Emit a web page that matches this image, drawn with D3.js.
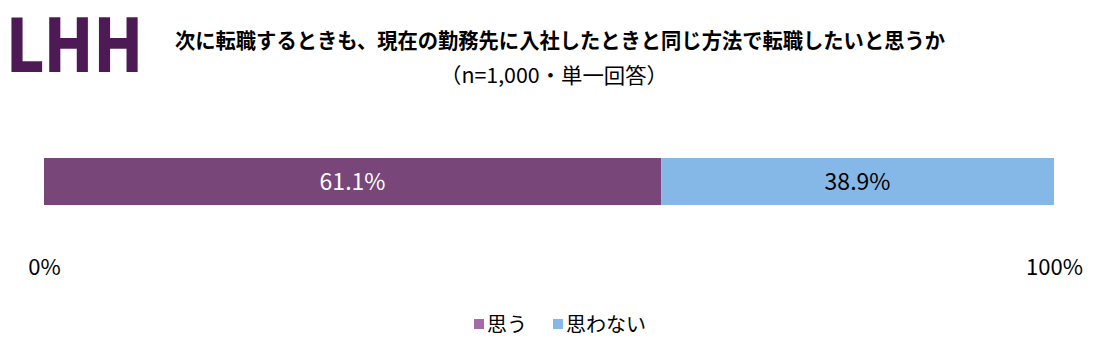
<!DOCTYPE html>
<html>
<head>
<meta charset="utf-8">
<script src="https://cdn.jsdelivr.net/npm/d3@7"></script>
<style>
  body { margin: 0; background: #fff; }
  text { font-family: "Noto Sans CJK JP", "Noto Sans", sans-serif; }
</style>
</head>
<body>
<script>
const title = '次に転職するときも、現在の勤務先に入社したときと同じ方法で転職したいと思うか';
const subtitle = '（n=1,000・単一回答）';
const categories = ['思う', '思わない'];
const values = [61.1, 38.9];
const barColors = ['#784679', '#85B8E6'];
const legendColors = ['#A36CA8', '#85B8E6'];
const labelColors = ['#ffffff', '#000000'];
const tickLabels = ['0%', '100%'];

const w = 1113;
const h = 359;

const svg = d3.select('body').append('svg').attr('width', w).attr('height', h);

// logo
svg.append('text')
  .attr('x', 6).attr('y', 72)
  .attr('fill', '#4E1A55')
  .style('font-family', '"DejaVu Sans", sans-serif')
  .style('font-weight', 'bold')
  .style('font-size', '74px')
  .attr('textLength', 137)
  .attr('lengthAdjust', 'spacingAndGlyphs')
  .text('LHH');

svg.append('text')
  .attr('x', 560).attr('y', 48)
  .attr('text-anchor', 'middle')
  .style('font-size', '21px')
  .style('font-weight', 'bold')
  .attr('textLength', 770)
  .attr('lengthAdjust', 'spacingAndGlyphs')
  .text(title);

svg.append('text')
  .attr('x', 554).attr('y', 83)
  .attr('text-anchor', 'middle')
  .style('font-size', '21px')
  .attr('textLength', 228)
  .attr('lengthAdjust', 'spacingAndGlyphs')
  .text(subtitle);

const xScale = d3.scaleLinear().domain([0, 100]).range([44, 1054]);

const stacked = [];
let acc = 0;
values.forEach((v, i) => {
  stacked.push({ cat: categories[i], v: v, x0: acc, x1: acc + v, i: i });
  acc += v;
});

const barY = 158;
const barH = 47;

const bars = svg.selectAll('rect.bar').data(stacked).enter().append('rect').attr('class', 'bar');
bars.attr('x', (d) => xScale(d.x0)).attr('y', barY)
  .attr('width', (d) => xScale(d.x1) - xScale(d.x0)).attr('height', barH)
  .attr('fill', (d) => barColors[d.i]);

svg.selectAll('text.val').data(stacked).enter().append('text')
  .attr('class', 'val')
  .attr('x', (d) => (xScale(d.x0) + xScale(d.x1)) / 2)
  .attr('y', barY + barH / 2 + 8)
  .attr('text-anchor', 'middle')
  .attr('fill', (d) => labelColors[d.i])
  .style('font-size', '23px')
  .text((d) => d.v.toFixed(1) + '%');

// axis labels
const xAxis = d3.axisBottom(xScale).tickValues([0, 100]).tickSize(0)
  .tickFormat((d, i) => tickLabels[i]);
const ax = svg.append('g').attr('transform', 'translate(0,256)').call(xAxis);
ax.select('.domain').remove();
ax.selectAll('text').style('font-size', '22px').style('font-family', '"Noto Sans CJK JP", sans-serif').attr('fill', '#000');

// legend
const legendX = [474, 553];
const lg = svg.selectAll('g.leg').data(categories).enter().append('g')
  .attr('class', 'leg')
  .attr('transform', (d, i) => 'translate(' + legendX[i] + ',319)');
lg.append('rect').attr('width', 10).attr('height', 10).attr('fill', (d, i) => legendColors[i]);
lg.append('text').attr('x', 13).attr('y', 13)
  .style('font-size', '20px')
  .text((d) => d);
</script>
</body>
</html>
